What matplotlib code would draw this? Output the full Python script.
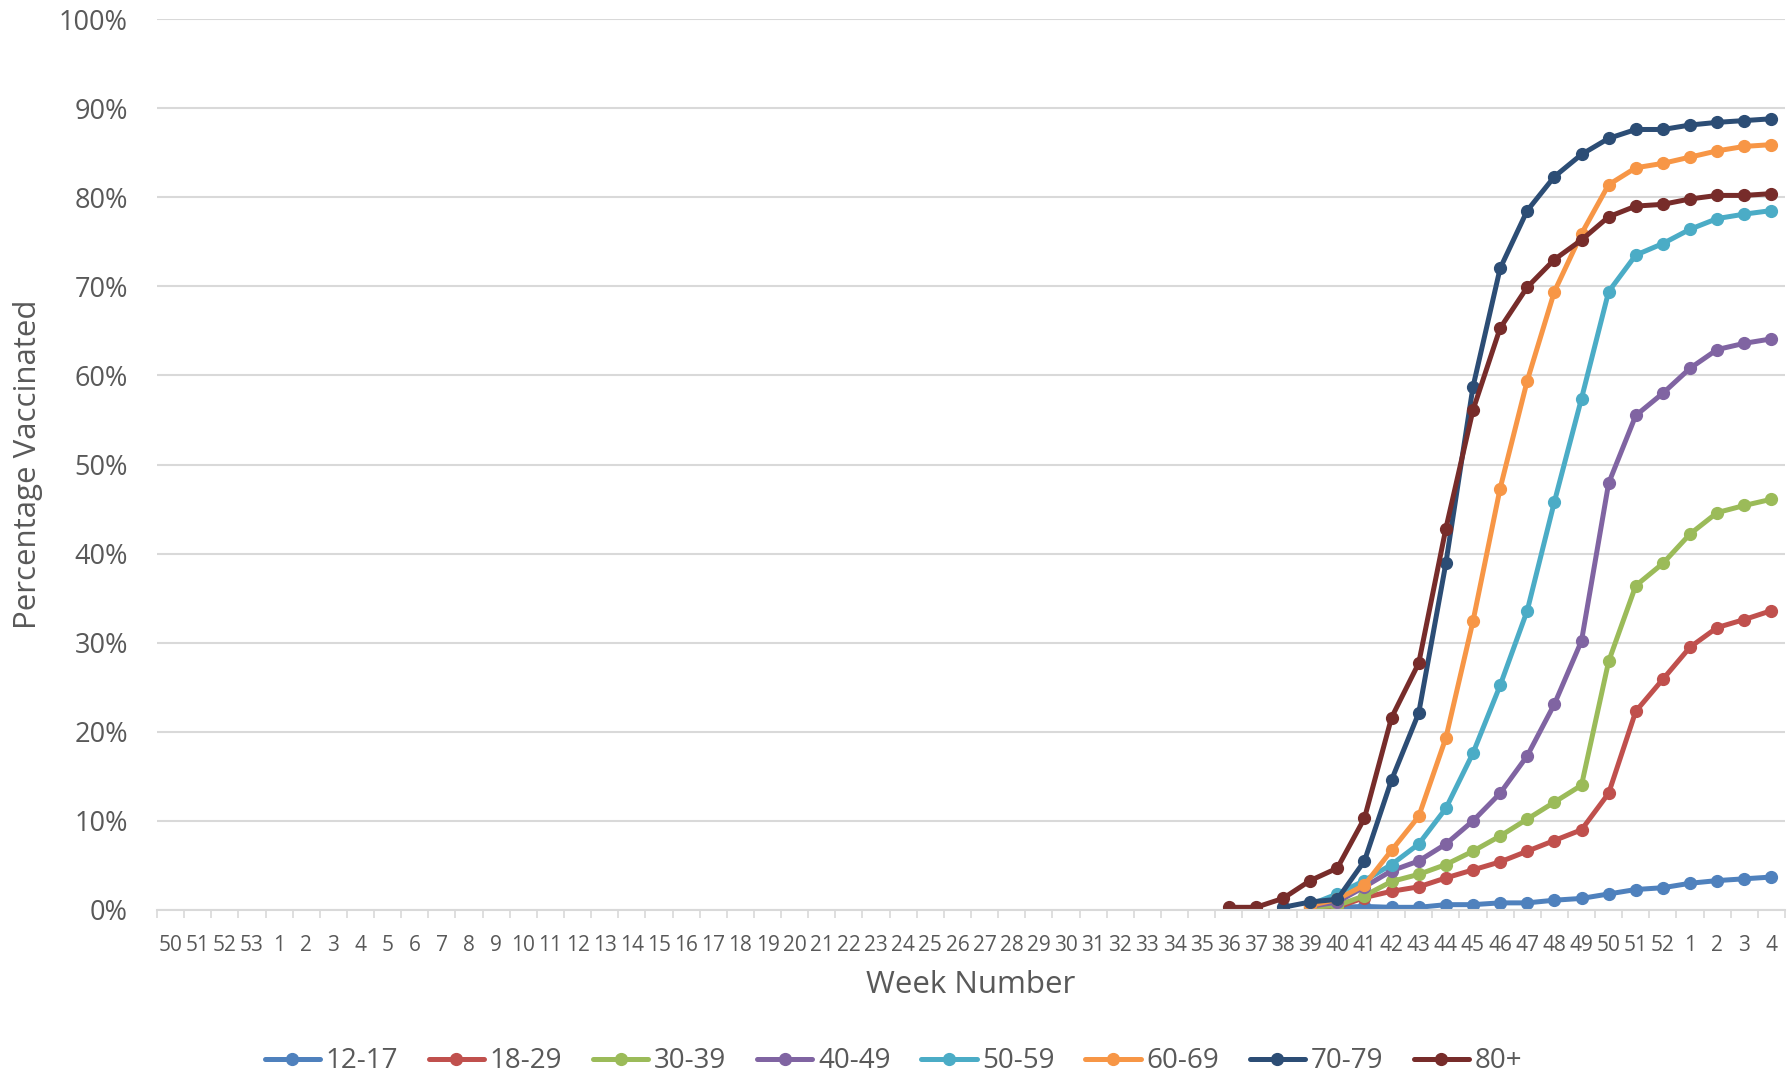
import numpy as np
import matplotlib
matplotlib.use('Agg')
import matplotlib.pyplot as plt

# week labels on the category axis
weeks = ['50', '51', '52', '53'] + [str(w) for w in range(1, 53)] + ['1', '2', '3', '4']

# values (%) from week 36 up to week 4 of the next year
nan = np.nan
v_12_17 = [nan, nan, nan, 0.1, 0.3, 0.4, 0.3, 0.3, 0.6, 0.6, 0.8, 0.8, 1.1, 1.3, 1.8, 2.3, 2.5, 3.0, 3.3, 3.5, 3.7]
v_18_29 = [nan, nan, nan, 0.2, 0.3, 1.4, 2.1, 2.6, 3.6, 4.5, 5.4, 6.6, 7.8, 9.0, 13.1, 22.3, 25.9, 29.5, 31.7, 32.6, 33.6]
v_30_39 = [nan, nan, nan, 0.3, 0.5, 1.6, 3.2, 4.0, 5.1, 6.6, 8.3, 10.2, 12.1, 14.0, 27.9, 36.4, 38.9, 42.2, 44.6, 45.4, 46.1]
v_40_49 = [nan, nan, nan, 0.4, 0.9, 2.6, 4.4, 5.5, 7.4, 10.0, 13.1, 17.3, 23.1, 30.2, 47.9, 55.5, 58.0, 60.8, 62.9, 63.6, 64.1]
v_50_59 = [nan, nan, nan, 0.6, 1.8, 3.3, 5.1, 7.4, 11.4, 17.6, 25.2, 33.6, 45.8, 57.4, 69.4, 73.5, 74.8, 76.4, 77.6, 78.1, 78.5]
v_60_69 = [nan, nan, nan, 0.5, 1.2, 2.8, 6.7, 10.5, 19.3, 32.4, 47.3, 59.4, 69.4, 75.9, 81.4, 83.3, 83.8, 84.5, 85.2, 85.7, 85.9]
v_70_79 = [nan, nan, 0.3, 0.9, 1.2, 5.5, 14.6, 22.1, 38.9, 58.7, 72.0, 78.5, 82.3, 84.8, 86.6, 87.6, 87.6, 88.1, 88.4, 88.6, 88.8]
v_80p = [0.3, 0.3, 1.3, 3.3, 4.7, 10.3, 21.6, 27.7, 42.8, 56.1, 65.3, 69.9, 73.0, 75.2, 77.8, 79.0, 79.2, 79.8, 80.2, 80.2, 80.4]

groups = ['12-17', '18-29', '30-39', '40-49', '50-59', '60-69', '70-79', '80+']
series = [v_12_17, v_18_29, v_30_39, v_40_49, v_50_59, v_60_69, v_70_79, v_80p]
colors = ['#4F81BD', '#C0504D', '#9BBB59', '#8064A2', '#4BACC6', '#F79646', '#2C4D75', '#772C2A']

txt = '#595959'
grid_c = '#D9D9D9'
plt.rcParams['font.family'] = ['Open Sans', 'DejaVu Sans']

fig = plt.figure(figsize=(17.87, 10.81), dpi=100)
ax = fig.add_axes([157/1787, 171/1081, 1628/1787, 891/1081])

x = np.arange(len(weeks))
for name, vals, c in zip(groups, series, colors):
    y = np.full(len(weeks), np.nan)
    y[-len(vals):] = vals
    ax.plot(x, y, color=c, lw=3.6, marker='o', ms=8.5, label=name,
            solid_capstyle='round', solid_joinstyle='round')

ax.set_xlim(-0.5, len(weeks) - 0.5)
ax.set_ylim(0, 100)
ax.set_yticks(np.arange(0, 101, 10))
ax.set_yticklabels(['%d%%' % v for v in range(0, 101, 10)])
ax.set_xticks(x)
ax.set_xticklabels(weeks)
ax.set_xticks(np.arange(-0.5, len(weeks), 1), minor=True)

ax.grid(axis='y', color=grid_c, lw=1.5)
ax.set_axisbelow(True)
for s in ['top', 'right', 'left']:
    ax.spines[s].set_visible(False)
ax.spines['bottom'].set_color(grid_c)
ax.spines['bottom'].set_linewidth(1.5)

ax.tick_params(axis='y', length=0, pad=21, labelsize=19.5, labelcolor=txt)
ax.tick_params(axis='x', which='major', length=0, pad=18, labelsize=15, labelcolor=txt)
ax.tick_params(axis='x', which='minor', length=6, width=1.2, color=grid_c)

ax.set_xlabel('Week Number', fontsize=22.5, color=txt)
ax.set_ylabel('Percentage Vaccinated', fontsize=22.5, color=txt)
ax.xaxis.set_label_coords(0.5, -0.067)
ax.yaxis.set_label_coords(-0.070, 0.5)

fig.legend(loc='lower center', bbox_to_anchor=(0.5, -0.018), ncol=8, frameon=False,
           fontsize=20, handlelength=2.0, handletextpad=0.2, columnspacing=1.1,
           labelcolor=txt)

fig.savefig('out.png', dpi=100)
